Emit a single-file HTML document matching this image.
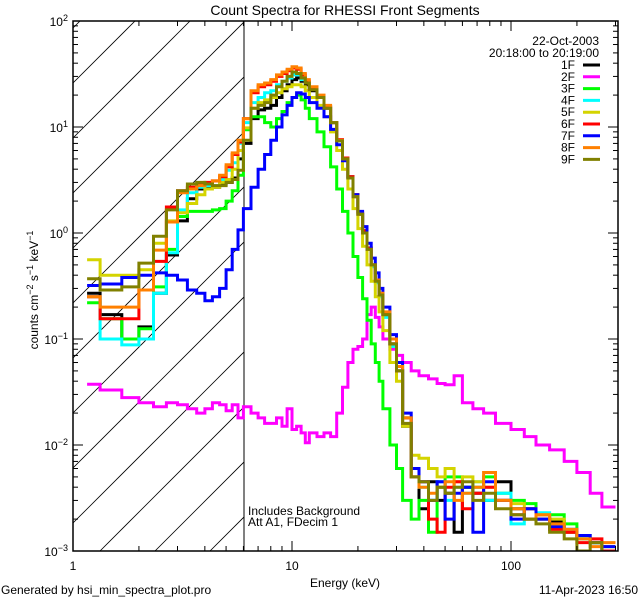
<!DOCTYPE html>
<html><head><meta charset="utf-8"><style>
html,body{margin:0;background:#fff;width:640px;height:600px;overflow:hidden;}
svg{display:block;font-family:"Liberation Sans",sans-serif;}
text{fill:#000;font-size:12px;}
</style></head><body>
<svg id="chart" width="640" height="600" viewBox="0 0 640 600" xmlns="http://www.w3.org/2000/svg">
<rect x="0" y="0" width="640" height="600" fill="#fff"/>
<defs><clipPath id="plotclip"><rect x="73" y="21" width="545" height="530"/></clipPath>
<clipPath id="hatchclip"><rect x="73" y="21" width="171" height="530"/></clipPath></defs>
<text x="345" y="15" text-anchor="middle" style="font-size:14px">Count Spectra for RHESSI Front Segments</text>
<g id="hatch" clip-path="url(#hatchclip)"></g>
<line x1="244" y1="21" x2="244" y2="551" stroke="#000" stroke-width="1"/>
<g id="series" clip-path="url(#plotclip)"></g>
<rect x="73" y="21" width="545" height="530" fill="none" stroke="#000" stroke-width="1.5"/>
<g id="axes"></g>
<text x="345" y="587" text-anchor="middle">Energy (keV)</text>
<text transform="translate(38,290) rotate(-90)" text-anchor="middle">counts cm<tspan dy="-5" font-size="9">−2</tspan><tspan dy="5"> s</tspan><tspan dy="-5" font-size="9">−1</tspan><tspan dy="5"> keV</tspan><tspan dy="-5" font-size="9">−1</tspan></text>
<text x="599" y="45" text-anchor="end">22-Oct-2003</text>
<text x="599" y="57" text-anchor="end">20:18:00 to 20:19:00</text>
<g id="legend"></g>
<text x="248" y="515">Includes Background</text>
<text x="248" y="526">Att A1, FDecim 1</text>
<text x="1" y="594">Generated by hsi_min_spectra_plot.pro</text>
<text x="638" y="594" text-anchor="end">11-Apr-2023 16:50</text>
</svg>
<script>
const edges=[1.16,1.33,1.67,2.0,2.33,2.67,3.0,3.33,3.67,4.0,4.33,4.67,5.0,5.33,5.67,6.0,6.5,7,7.5,8,8.5,9,9.5,10,10.5,11,11.5,12,13,14,15,16,17,18,19,20,21,22,23,24,25,26,28,30,32,35,38,42,46,50,55,60,67,75,85,100,115,130,150,175,200,230,260,300];
const seriesNames=["1F","2F","3F","4F","5F","6F","7F","8F","9F"];
const s1F=[0.27,0.17,0.10,0.13,0.27,0.62,1.3,2.1,2.6,2.7,2.7,2.9,3.0,3.3,5.0,7,
12,14.5,15,16,19,22,25,28,29,27,25,22,19,15,11,7.5,5,3.4,2.3,1.5,1.05,0.72,0.5,0.36,0.26,0.17,0.09,0.05,0.015,
0.006,0.0025,0.0045,0.003,0.0035,0.0015,0.004,0.0035,0.003,0.0045,0.0025,0.002,0.0022,0.0019,0.0015,0.0013,0.0012,0.0008];
const s2F=[0.0375,0.033,0.028,0.025,0.023,0.025,0.024,0.022,0.02,0.022,0.025,0.024,0.021,0.024,0.018,0.023,
0.02,0.018,0.016,0.016,0.018,0.015,0.022,0.014,0.015,0.013,0.0105,0.013,0.012,0.013,0.012,0.02,0.035,0.06,0.08,0.085,0.1,0.17,0.2,0.16,0.13,0.1,0.08,0.07,0.06,
0.05,0.045,0.042,0.038,0.037,0.045,0.025,0.022,0.02,0.016,0.014,0.012,0.01,0.009,0.007,0.0055,0.0035,0.0026];
const s3F=[0.22,0.155,0.10,0.125,0.31,0.7,1.43,1.6,1.6,1.6,1.65,1.7,2.0,2.5,3.5,9.4,
12.5,12.5,11,10,12,14,17,19,20,18,15,12,9,6.5,4.2,2.6,1.6,1.0,0.6,0.38,0.24,0.15,0.09,0.06,0.04,0.022,0.01,0.006,0.003,
0.002,0.003,0.0015,0.004,0.005,0.005,0.004,0.004,0.005,0.0035,0.003,0.0028,0.002,0.0022,0.0018,0.0013,0.0012,0.0011];
const s4F=[0.25,0.10,0.088,0.10,0.27,0.65,1.65,2.4,2.7,2.8,2.8,3.2,3.9,4.6,7.0,11,
17,19,21,22,25,27,29,31,31,28,26,23,19,15.5,11,7.4,5,3.3,2.2,1.5,1.0,0.7,0.48,0.34,0.25,0.16,0.085,0.05,0.018,
0.006,0.004,0.003,0.0045,0.003,0.004,0.0035,0.0045,0.003,0.0035,0.0018,0.0025,0.0023,0.0017,0.0016,0.0013,0.0012,0.001];
const s5F=[0.56,0.40,0.40,0.45,0.8,1.3,1.55,1.9,2.3,2.6,2.7,3.0,3.2,4.0,6.0,9.8,
15,17,18,19,21,23,24,25,25,24,22,19,16,12.5,9,6,4,2.6,1.7,1.1,0.75,0.5,0.35,0.25,0.18,0.12,0.06,0.04,0.015,
0.008,0.0075,0.006,0.005,0.006,0.0045,0.005,0.0045,0.004,0.003,0.0028,0.0025,0.0022,0.002,0.0015,0.0014,0.0012,0.0011];
const s6F=[0.25,0.155,0.155,0.29,0.54,1.76,2.5,2.7,2.9,3.0,3.1,3.4,4.2,5.5,7.2,12,
21,24,25,27,30,32,34,36,35,31,27,23,19.5,15.5,11,7.6,5.1,3.4,2.3,1.55,1.05,0.72,0.5,0.36,0.26,0.17,0.09,0.05,0.018,
0.005,0.0045,0.002,0.0015,0.004,0.0045,0.0025,0.0035,0.004,0.003,0.0022,0.0025,0.002,0.0016,0.0015,0.0012,0.0013,0.001];
const s7F=[0.32,0.33,0.38,0.40,0.42,0.40,0.36,0.29,0.27,0.23,0.25,0.30,0.45,0.70,1.07,1.7,
2.7,4,5.5,7.5,10,13,16,19,21,20.5,19,17,15,12.5,9.5,6.8,4.8,3.3,2.3,1.6,1.15,0.8,0.58,0.42,0.3,0.2,0.11,0.06,0.02,
0.006,0.0045,0.003,0.0045,0.002,0.0035,0.004,0.0015,0.0045,0.003,0.002,0.0025,0.002,0.0017,0.0016,0.0014,0.0012,0.0011];
const s8F=[0.25,0.20,0.20,0.29,0.69,1.27,2.4,2.6,2.8,2.9,3.1,3.5,4.4,5.7,7.5,12,
22,25,26,28,31,33,35,37,36,32,28,24,20,16,11,7.5,5,3.3,2.2,1.5,1.0,0.7,0.5,0.36,0.27,0.18,0.10,0.055,0.018,
0.005,0.004,0.0035,0.004,0.0045,0.003,0.0035,0.004,0.0055,0.003,0.0025,0.002,0.0022,0.0018,0.0016,0.0013,0.0011,0.0012];
const s9F=[0.37,0.29,0.31,0.52,0.93,1.65,2.5,2.9,3.0,2.9,2.8,2.8,3.0,3.2,3.9,7.5,
15,16,17,20,24,27,30,33,32,29,26,22.5,19,15,11,7.4,5,3.3,2.2,1.5,1.0,0.7,0.5,0.35,0.26,0.17,0.09,0.05,0.016,
0.005,0.0045,0.003,0.004,0.0035,0.004,0.0045,0.003,0.0035,0.0025,0.0022,0.002,0.0018,0.0015,0.0013,0.001,0.0012,0.0009];
const seriesValues=[s1F,s2F,s3F,s4F,s5F,s6F,s7F,s8F,s9F];
const seriesColors=["#000000","#ff00ff","#00ff00","#00ffff","#d4d400","#ff0000","#0000ff","#ff8000","#808000"];
const xTickLabels=["1","10","100"];
const yTickExps=["2","1","0","−1","−2","−3"];

const NS="http://www.w3.org/2000/svg";
const X0=73,X1=618,Y0=21,Y1=551;
const xMinLog=0,xMaxLog=545/219;
const yMinLog=-3,yMaxLog=2;
function xs(e){return X0+(Math.log10(e)-xMinLog)/(xMaxLog-xMinLog)*(X1-X0);}
function ys(v){const l=Math.max(Math.log10(v),-3.3);return Y1-(l-yMinLog)/(yMaxLog-yMinLog)*(Y1-Y0);}
function mk(tag,attrs,parent){const el=document.createElementNS(NS,tag);for(const k in attrs)el.setAttribute(k,attrs[k]);parent.appendChild(el);return el;}

const hatch=document.getElementById('hatch');
for(let c=83-55*4;c<Y1+200;c+=55){
  const ln=mk('line',{x1:X0,y1:c,x2:X0+600,y2:c-600,stroke:'#000','stroke-width':0.8},hatch);
  
  
}

const sg=document.getElementById('series');
seriesValues.forEach((vals,si)=>{
  let d='M'+xs(edges[0]).toFixed(1)+' '+ys(vals[0]).toFixed(1);
  for(let i=0;i<vals.length;i++){
    if(i>0)d+=' V'+ys(vals[i]).toFixed(1);
    d+=' H'+xs(edges[i+1]).toFixed(1);
  }
  const p=mk('path',{d:d,fill:'none',stroke:seriesColors[si],'stroke-width':3,'stroke-linejoin':'miter'},sg);
  
  
});

const ax=document.getElementById('axes');
for(let d=0;d<3;d++){
  for(let m=1;m<10;m++){
    const e=Math.pow(10,d)*m;
    if(Math.log10(e)>xMaxLog)break;
    const x=xs(e),len=m===1?10:5;
    const t1=mk('line',{x1:x,y1:Y1,x2:x,y2:Y1-len,stroke:'#000','stroke-width':1},ax);
    
    
    const t2=mk('line',{x1:x,y1:Y0,x2:x,y2:Y0+len,stroke:'#000','stroke-width':1},ax);
    
    
  }
}
xTickLabels.forEach((lab,i)=>{
  const t=mk('text',{x:xs(Math.pow(10,i)),y:570,'text-anchor':'middle'},ax);
  t.textContent=lab;
  
  
});
for(let d=-3;d<2;d++){
  for(let m=1;m<10;m++){
    const v=Math.pow(10,d)*m,y=ys(v),len=m===1?10:5;
    const t1=mk('line',{x1:X0,y1:y,x2:X0+len,y2:y,stroke:'#000','stroke-width':1},ax);
    
    
    const t2=mk('line',{x1:X1,y1:y,x2:X1-len,y2:y,stroke:'#000','stroke-width':1},ax);
    
    
  }
}
yTickExps.forEach((ex,i)=>{
  const y=ys(Math.pow(10,2-i));
  const t=mk('text',{x:68,y:y+5,'text-anchor':'end'},ax);
  t.innerHTML='10<tspan dy="-5" font-size="9">'+ex+'</tspan>';
  
  
});

const lg=document.getElementById('legend');
seriesNames.forEach((n,i)=>{
  const y=65+i*11.8;
  const t=mk('text',{x:575,y:y+4,'text-anchor':'end'},lg);
  t.textContent=n;
  
  
  const l=mk('line',{x1:583,y1:y,x2:600,y2:y,stroke:seriesColors[i],'stroke-width':3},lg);
  
  
});
</script>
</body></html>
